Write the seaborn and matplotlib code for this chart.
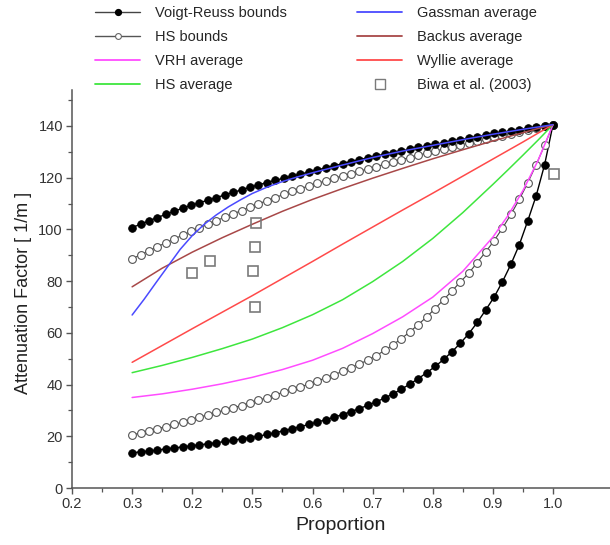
import matplotlib
matplotlib.use("Agg")
import matplotlib.pyplot as plt
import seaborn as sns
from matplotlib.lines import Line2D
from matplotlib.ticker import FixedLocator, MultipleLocator

# ---------------- data ----------------
# proportion grid for the marker series
prop_pts = [0.300, 0.314, 0.328, 0.342, 0.356, 0.370, 0.384, 0.398, 0.412, 0.426,
            0.440, 0.454, 0.468, 0.482, 0.496, 0.510, 0.524, 0.538, 0.552, 0.566,
            0.580, 0.594, 0.608, 0.622, 0.636, 0.650, 0.664, 0.678, 0.692, 0.706,
            0.720, 0.734, 0.748, 0.762, 0.776, 0.790, 0.804, 0.818, 0.832, 0.846,
            0.860, 0.874, 0.888, 0.902, 0.916, 0.930, 0.944, 0.958, 0.972, 0.986, 1.000]

voigt_upper = [100.7, 102.0, 103.3, 104.6, 105.8, 107.0, 108.2, 109.3, 110.3, 111.3,
               112.3, 113.3, 114.3, 115.3, 116.3, 117.2, 118.1, 119.0, 119.8, 120.6,
               121.4, 122.2, 123.0, 123.8, 124.6, 125.4, 126.2, 126.9, 127.7, 128.4,
               129.1, 129.7, 130.4, 131.0, 131.7, 132.3, 132.9, 133.5, 134.1, 134.7,
               135.3, 135.9, 136.5, 137.1, 137.6, 138.1, 138.6, 139.1, 139.6, 140.0, 140.5]

reuss_lower = [13.6, 14.0, 14.3, 14.7, 15.1, 15.5, 15.9, 16.3, 16.7, 17.1,
               17.5, 18.0, 18.5, 19.0, 19.5, 20.0, 20.7, 21.4, 22.1, 22.9,
               23.7, 24.6, 25.5, 26.4, 27.4, 28.4, 29.5, 30.7, 32.0, 33.3,
               34.8, 36.4, 38.2, 40.2, 42.3, 44.6, 47.0, 49.7, 52.7, 56.0,
               59.7, 64.0, 68.8, 73.8, 79.8, 86.5, 94.1, 103.3, 113.0, 125.0, 140.5]

hs_upper = [88.6, 90.2, 91.7, 93.3, 94.8, 96.3, 97.8, 99.2, 100.6, 102.0,
            103.4, 104.7, 106.0, 107.3, 108.6, 109.9, 111.1, 112.3, 113.5, 114.7,
            115.8, 116.8, 117.8, 118.8, 119.8, 120.7, 121.6, 122.5, 123.4, 124.3,
            125.2, 126.1, 127.0, 127.8, 128.7, 129.5, 130.3, 131.1, 131.9, 132.6,
            133.4, 134.1, 134.8, 135.6, 136.3, 137.0, 137.7, 138.4, 139.1, 139.8, 140.5]

hs_lower = [20.5, 21.3, 22.1, 22.9, 23.7, 24.6, 25.5, 26.4, 27.4, 28.3,
            29.2, 30.1, 31.0, 31.9, 32.9, 33.9, 34.9, 36.0, 37.1, 38.1,
            39.1, 40.2, 41.4, 42.6, 43.8, 45.1, 46.5, 48.0, 49.4, 51.2,
            53.2, 55.4, 57.8, 60.4, 63.2, 66.2, 69.4, 72.8, 76.2, 79.7,
            83.1, 87.2, 91.3, 95.6, 100.5, 105.8, 111.6, 118.0, 125.0, 132.5, 140.5]

# proportion grid for the smooth averages
prop_line = [0.30, 0.35, 0.40, 0.45, 0.50, 0.55, 0.60, 0.65, 0.70, 0.75,
             0.80, 0.85, 0.90, 0.925, 0.95, 0.975, 1.00]
vrh_avg = [35.0, 36.4, 38.2, 40.3, 42.8, 45.8, 49.4, 54.0, 59.7, 66.2,
           73.8, 83.8, 97.0, 105.3, 115.0, 126.6, 140.5]
hs_avg = [44.6, 47.4, 50.5, 53.9, 57.6, 62.0, 67.0, 72.8, 79.8, 87.6,
          96.5, 106.5, 117.4, 123.0, 128.7, 134.5, 140.5]
wyllie_avg = [48.6, 55.1, 61.6, 68.0, 74.4, 81.0, 87.6, 94.3, 100.9, 107.5,
              114.0, 120.6, 127.2, 130.5, 133.8, 137.2, 140.5]
backus_avg = [77.8, 85.0, 91.2, 96.8, 102.0, 107.0, 111.6, 115.8, 119.8, 123.6,
              127.3, 130.8, 134.2, 135.8, 137.4, 139.0, 140.5]

prop_gass = [0.30, 0.32, 0.34, 0.36, 0.38, 0.40, 0.42, 0.44, 0.46, 0.48, 0.50,
             0.525, 0.55, 0.575, 0.60, 0.65, 0.70, 0.75, 0.80, 0.85, 0.90, 0.95, 1.00]
gassman_avg = [66.9, 73.0, 79.5, 85.9, 92.3, 97.6, 102.0, 105.6, 108.7, 111.4, 113.9,
               116.4, 118.5, 120.3, 121.9, 124.9, 127.8, 130.3, 132.5, 134.7, 136.8, 138.7, 140.5]

biwa_x = [0.400, 0.430, 0.506, 0.505, 0.501, 0.504, 1.002]
biwa_y = [83.3, 87.8, 102.6, 93.3, 84.0, 70.1, 121.4]

x_ticks = [0.2, 0.3, 0.4, 0.5, 0.6, 0.7, 0.8, 0.9, 1.0]
x_tick_labels = ["0.2", "0.3", "0.2", "0.5", "0.6", "0.7", "0.8", "0.9", "1.0"]
y_ticks = [0, 20, 40, 60, 80, 100, 120, 140]

labels = ["Voigt-Reuss bounds", "HS bounds", "VRH average", "HS average",
          "Gassman average", "Backus average", "Wyllie average", "Biwa et al. (2003)"]

# ---------------- style ----------------
sns.set_style("ticks")
plt.rcParams['font.family'] = ['Liberation Sans', 'DejaVu Sans']

C_VRH = '#ff4cff'
C_HS = '#3ee63e'
C_GASS = '#4a4aff'
C_BACK = '#a84848'
C_WYL = '#ff4a4a'
C_AX = '#555555'
LW = 1.1

W, H = 610, 545
fig = plt.figure(figsize=(W / 100, H / 100), dpi=100)
ax = fig.add_axes([72 / W, (H - 488) / H, 538 / W, 398 / H])

# bounds with markers
mk_black = dict(color='black', lw=1.0, marker='o', markersize=5.5,
                markerfacecolor='black', markeredgecolor='black', markeredgewidth=0.6)
mk_open = dict(color='#444444', lw=0.8, marker='o', markersize=5.6,
               markerfacecolor='white', markeredgecolor='#555555', markeredgewidth=0.8)

sns.lineplot(x=prop_pts, y=reuss_lower, ax=ax, estimator=None, sort=False, **mk_black)
sns.lineplot(x=prop_pts, y=hs_lower, ax=ax, estimator=None, sort=False, **mk_open)
sns.lineplot(x=prop_pts, y=hs_upper, ax=ax, estimator=None, sort=False, **mk_open)
sns.lineplot(x=prop_pts, y=voigt_upper, ax=ax, estimator=None, sort=False, **mk_black)

# averages
sns.lineplot(x=prop_line, y=vrh_avg, ax=ax, color=C_VRH, lw=LW, estimator=None, sort=False)
sns.lineplot(x=prop_line, y=hs_avg, ax=ax, color=C_HS, lw=LW, estimator=None, sort=False)
sns.lineplot(x=prop_line, y=wyllie_avg, ax=ax, color=C_WYL, lw=LW, estimator=None, sort=False)
sns.lineplot(x=prop_line, y=backus_avg, ax=ax, color=C_BACK, lw=LW, estimator=None, sort=False)
sns.lineplot(x=prop_gass, y=gassman_avg, ax=ax, color=C_GASS, lw=LW, estimator=None, sort=False)

# experimental data
sns.lineplot(x=biwa_x, y=biwa_y, ax=ax, estimator=None, sort=False, linestyle='none',
             marker='s', markersize=7.5, markerfacecolor='none',
             markeredgecolor='#7a7a7a', markeredgewidth=1.2, color='#7a7a7a')

# axes
ax.set_xlim(0.2, 0.2 + 538 / 601.25)
ax.set_ylim(0, 398 / 2.586)
ax.xaxis.set_major_locator(FixedLocator(x_ticks))
ax.set_xticklabels(x_tick_labels)
ax.xaxis.set_minor_locator(FixedLocator([0.25, 0.35, 0.45, 0.55, 0.65, 0.75, 0.85, 0.95]))
ax.yaxis.set_major_locator(FixedLocator(y_ticks))
ax.yaxis.set_minor_locator(MultipleLocator(10))

for s in ['top', 'right']:
    ax.spines[s].set_visible(False)
for s in ['left', 'bottom']:
    ax.spines[s].set_color(C_AX)
    ax.spines[s].set_linewidth(1.1)
ax.tick_params(axis='both', which='major', direction='out', length=4.5, width=1.0,
               color=C_AX, labelsize=10.5, labelcolor='#333333', pad=2)
ax.tick_params(axis='both', which='minor', direction='out', length=2.8, width=0.9, color=C_AX)

ax.set_xlabel("Proportion", fontsize=14, color='#222222')
ax.set_ylabel("Attenuation Factor [ 1/m ]", fontsize=13, color='#222222')
ax.xaxis.set_label_coords(0.5, -0.074)
ax.yaxis.set_label_coords(-0.075, 0.49)

# legend
h = [
    Line2D([], [], color='#444444', lw=1.0, marker='o', markersize=4.2,
           markerfacecolor='black', markeredgecolor='black'),
    Line2D([], [], color='#555555', lw=1.0, marker='o', markersize=4.2,
           markerfacecolor='white', markeredgecolor='#666666', markeredgewidth=0.8),
    Line2D([], [], color=C_VRH, lw=1.3),
    Line2D([], [], color=C_HS, lw=1.3),
    Line2D([], [], color=C_GASS, lw=1.3),
    Line2D([], [], color=C_BACK, lw=1.3),
    Line2D([], [], color=C_WYL, lw=1.3),
    Line2D([], [], linestyle='none', marker='s', markersize=6.5, markerfacecolor='none',
           markeredgecolor='#7a7a7a', markeredgewidth=1.0),
]
leg_kw = dict(loc='upper left', frameon=False, fontsize=10.5, handlelength=3.1,
              handletextpad=1.0, labelspacing=0.69, borderpad=0, borderaxespad=0,
              numpoints=1)
leg1 = fig.legend(h[:4], labels[:4], bbox_to_anchor=(95 / W, 1 - 6 / H), **leg_kw)
leg2 = fig.legend(h[4:], labels[4:], bbox_to_anchor=(357 / W, 1 - 6 / H), **leg_kw)

fig.savefig("out.png", dpi=100)
